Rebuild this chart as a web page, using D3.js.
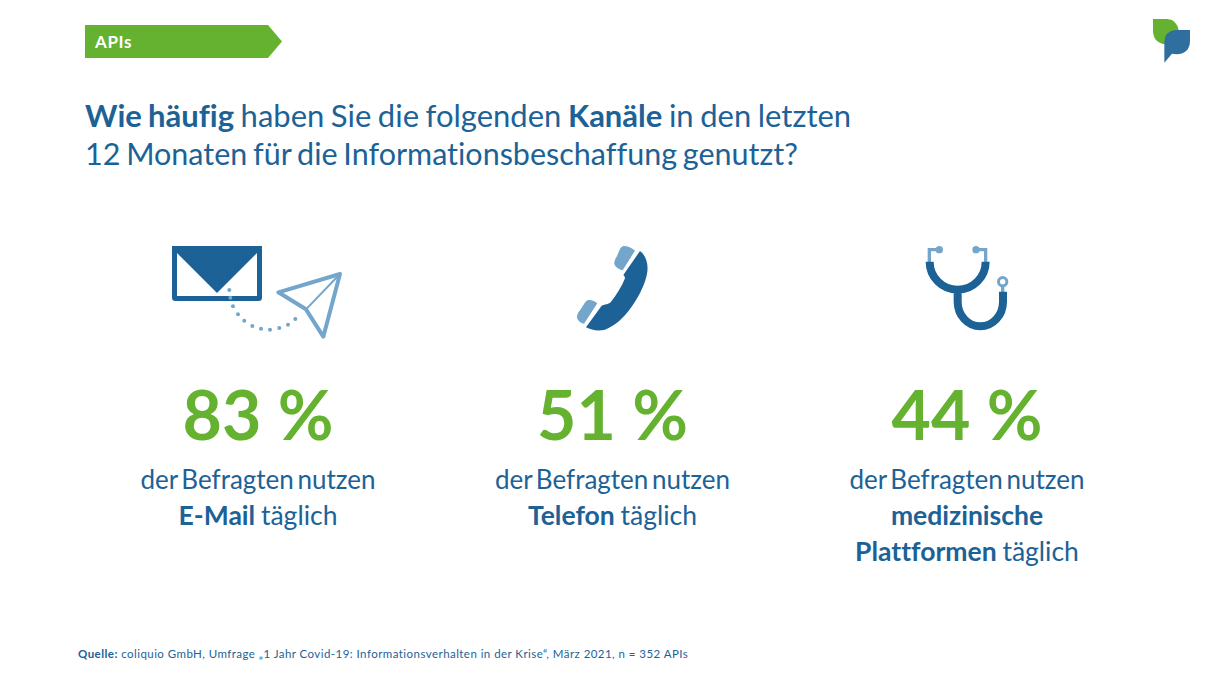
<!DOCTYPE html>
<html lang="de">
<head>
<meta charset="utf-8">
<title>APIs</title>
<script src="https://cdnjs.cloudflare.com/ajax/libs/d3/7.8.5/d3.min.js"></script>
<style>
  html, body { margin: 0; padding: 0; background: #fff; }
  svg { display: block; font-family: Lato, "Noto Sans", sans-serif; font-variant-ligatures: none; }
</style>
</head>
<body>
<div id="chart"></div>
<script>
// values
var categories = ["E-Mail", "Telefon", "Plattformen"];
var shares = [83, 51, 44];
var captionLines = [
    [[{t: "E-Mail", b: true}, {t: " täglich"}]],
    [[{t: "Telefon", b: true}, {t: " täglich"}]],
    [[{t: "medizinische", b: true}], [{t: "Plattformen", b: true}, {t: " täglich"}]]
];
var titleLines = [
    [{t: "Wie häufig", b: true}, {t: " haben Sie die folgenden "}, {t: "Kanäle", b: true}, {t: " in den letzten"}],
    [{t: "12 Monaten für die Informationsbeschaffung genutzt?"}]
];
var titleSizes = [31, 30.5];
var titleWordSpacing = [-1.4, -2];
var tagLabel = "APIs";
var captionHead = "der Befragten nutzen";
var sourceHead = "Quelle:";
var sourceText = " coliquio GmbH, Umfrage „1 Jahr Covid-19: Informationsverhalten in der Krise“, März 2021, n = 352 APIs";

var blue = "#1c6296", green = "#64b22f", light = "#74a6cc";
var width = 1210, height = 680;

var svg = d3.select("#chart").append("svg")
    .attr("width", width).attr("height", height);

var x = d3.scalePoint().domain(categories).range([258, 967]);

function addRuns(sel, runs) {
    runs.forEach(function(r) {
        sel.append("tspan")
            .attr("font-weight", r.b ? 700 : 400)
            .text(r.t);
    });
}

// tag top left
svg.append("path").attr("fill", green)
    .attr("d", "M85,25H268L282,41.5L268,58H85Z");
svg.append("text").attr("x", 95).attr("y", 47.5)
    .attr("fill", "#fff").attr("font-size", 17).attr("font-weight", 700)
    .attr("letter-spacing", 0.6)
    .text(tagLabel);

// logo
var logo = svg.append("g").attr("transform", "translate(1140,10) scale(0.3333)");
logo.append("path").attr("fill", green)
    .attr("d", "M39,27L82,27Q112,30 116,62L100,80L75,103Q39,98 39,60Z");
logo.append("path").attr("fill", "#2f6f9f")
    .attr("d", "M150,60L105,60Q75,64 73,95L73,158L96,131L110,133Q150,130 150,92Z");

// title
titleLines.forEach(function(runs, i) {
    var t = svg.append("text")
        .attr("x", 85).attr("y", 127 + i * 38)
        .attr("fill", blue).attr("font-size", titleSizes[i])
        .attr("word-spacing", titleWordSpacing[i]);
    addRuns(t, runs);
});

// columns
var cols = svg.selectAll("g.col").data(categories).enter().append("g")
    .attr("class", "col")
    .attr("transform", function(d) { return "translate(" + x(d) + ",0)"; })
    .attr("text-anchor", "middle");

cols.append("text").attr("y", 440)
    .attr("fill", green).attr("font-size", 68).attr("font-weight", 700)
    .text(function(d, i) { return shares[i] + " %"; });

cols.append("text").attr("y", 489)
    .attr("fill", blue).attr("font-size", 26).attr("word-spacing", -3)
    .text(captionHead);

cols.each(function(d, i) {
    var col = d3.select(this);
    captionLines[i].forEach(function(runs, j) {
        var t = col.append("text").attr("y", 525 + j * 35.5)
            .attr("fill", blue).attr("font-size", 26.5).attr("word-spacing", -1);
        addRuns(t, runs);
    });
});

// envelope icon
var mail = svg.append("g");
mail.append("rect").attr("x", 174.5).attr("y", 248.5).attr("width", 85).attr("height", 50)
    .attr("rx", 1).attr("fill", "#fff").attr("stroke", blue).attr("stroke-width", 5);
mail.append("path").attr("fill", blue).attr("d", "M172,246H262V248L257,253L217,293L177,253L172,248Z");
var plane = svg.append("g").attr("transform", "translate(150,230) scale(0.3333)");
plane.append("path").attr("fill", "none").attr("stroke", light).attr("stroke-width", 12)
    .attr("stroke-linejoin", "round")
    .attr("d", "M570,132L385,187L468,238L520,320Z");
plane.append("path").attr("fill", "none").attr("stroke", light).attr("stroke-width", 6)
    .attr("d", "M468,238L570,132");
var dots = [[238,180],[241,203],[249,229],[264,253],[283,272],[307,288],[333,296],[360,299],[388,294],[414,284],[436,267]];
plane.selectAll("circle").data(dots).enter().append("circle")
    .attr("cx", function(d) { return d[0]; }).attr("cy", function(d) { return d[1]; })
    .attr("r", 6).attr("fill", light);

// phone icon
var phone = svg.append("g").attr("transform", "translate(560,235) scale(0.3333)");
phone.append("path").attr("fill", blue)
    .attr("d", "M240,48C258,62 265,85 262,110C258,140 240,180 215,215C190,250 165,272 135,284C115,289 95,286 78,277L125,212C135,208 145,208 152,202C170,180 185,155 195,130C195,125 192,122 190,120Z");
phone.append("path").attr("fill", light)
    .attr("d", "M190,33C200,32 215,38 225,47L188,106C178,104 167,98 163,88C162,80 165,72 170,65L180,42C183,37 186,34 190,33Z");
phone.append("path").attr("fill", light)
    .attr("d", "M85,195C95,194 105,198 112,205L72,266C62,264 54,258 51,248C50,240 55,232 60,226L74,204C78,199 81,196 85,195Z");

// stethoscope icon
var scope = svg.append("g").attr("transform", "translate(910,235) scale(0.3333)")
    .attr("fill", "none");
scope.append("path").attr("stroke", light).attr("stroke-width", 10)
    .attr("d", "M58,84V44H85M227,84V44H198M278,155V172");
scope.append("circle").attr("cx", 88).attr("cy", 44).attr("r", 11).attr("fill", light);
scope.append("circle").attr("cx", 198).attr("cy", 44).attr("r", 11).attr("fill", light);
scope.append("circle").attr("cx", 278).attr("cy", 140).attr("r", 12.5)
    .attr("stroke", light).attr("stroke-width", 9);
scope.append("path").attr("stroke", blue).attr("stroke-width", 24)
    .attr("d", "M59,80A84,84 0 0 0 227,80M143,164V200A68,74 0 0 0 279,200V170");

// source line
var src = svg.append("text").attr("x", 78).attr("y", 658)
    .attr("fill", blue).attr("font-size", 11.5).attr("letter-spacing", 0.45);
addRuns(src, [{t: sourceHead, b: true}, {t: sourceText}]);
</script>
</body>
</html>
